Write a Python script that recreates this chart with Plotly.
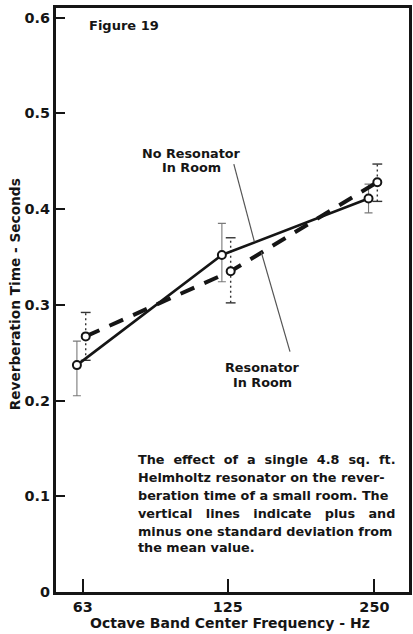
import numpy as np
import plotly.graph_objects as go

# Octave band centre frequencies (Hz)
freq = [63, 125, 250]
freq_labels = ["63", "125", "250"]

# Reverberation time (s), no resonator in room
no_res = [0.237, 0.352, 0.411]
no_res_plus = [0.025, 0.033, 0.015]
no_res_minus = [0.032, 0.028, 0.015]

# Reverberation time (s), resonator in room
res = [0.267, 0.335, 0.428]
res_plus = [0.025, 0.035, 0.019]
res_minus = [0.025, 0.033, 0.020]

y_ticks = [0, 0.1, 0.2, 0.3, 0.4, 0.5, 0.6]
y_tick_labels = ["0", "0.1", "0.2", "0.3", "0.4", "0.5", "0.6"]

caption = [
    "The\u00a0 effect\u00a0 of\u00a0 a\u00a0 single\u00a0 4.8\u00a0 sq.\u00a0 ft.",
    "Helmholtz resonator on the rever-",
    "beration time of a small room. The",
    "vertical\u00a0\u00a0 lines\u00a0\u00a0 indicate\u00a0\u00a0 plus\u00a0\u00a0 and",
    "minus one standard deviation from",
    "the mean value.",
]

FONT = "DejaVu Sans"
INK = "#151515"

# frequencies placed on an octave (log2) axis; the two series are dodged slightly
octave = np.log2(np.array(freq) / freq[0])
dodge = 0.04
x_no = octave - dodge
x_res = octave + dodge * 0.5

fig = go.Figure()

# dotted standard-deviation bars for the resonator series
bx, by = [], []
for xi, yi, p, m in zip(x_res, res, res_plus, res_minus):
    bx += [xi, xi, None]
    by += [yi - m, yi + p, None]
fig.add_trace(go.Scatter(
    x=bx, y=by, mode="lines+markers",
    line=dict(color="#333333", width=1.4, dash="2px,3px"),
    marker=dict(symbol="line-ew-open", size=7, line=dict(color="#333333", width=1.4)),
    hoverinfo="skip", showlegend=False,
))

# no resonator: solid line with standard-deviation bars
fig.add_trace(go.Scatter(
    x=x_no, y=no_res, mode="lines+markers", name="No Resonator In Room",
    line=dict(color=INK, width=2.6),
    marker=dict(symbol="circle", size=8, color="white", line=dict(color=INK, width=2)),
    error_y=dict(type="data", symmetric=False, array=no_res_plus, arrayminus=no_res_minus,
                 color="#7a7a7a", thickness=1.1, width=4),
    showlegend=False,
))

# resonator: heavy dashed line
fig.add_trace(go.Scatter(
    x=x_res, y=res, mode="lines+markers", name="Resonator In Room",
    line=dict(color=INK, width=4, dash="15px,11px"),
    marker=dict(symbol="circle", size=8, color="white", line=dict(color=INK, width=2)),
    showlegend=False,
))

# leader lines from the labels to their curves
for (x0, y0, x1, y1) in [(1.03, 0.447, 1.17, 0.366), (1.413, 0.251, 1.217, 0.355)]:
    fig.add_shape(type="line", xref="x", yref="y", x0=x0, y0=y0, x1=x1, y1=y1,
                  line=dict(color="#555555", width=1.2))

ann_font = dict(family=FONT, size=12.8, color=INK, weight="bold")
annotations = [
    dict(x=0.027, y=0.5922, text="Figure 19", xanchor="left",
         font=dict(family=FONT, size=13, color=INK, weight="bold")),
    dict(x=0.744, y=0.4585, text="No Resonator", xanchor="center", font=ann_font),
    dict(x=0.744, y=0.443, text="In Room", xanchor="center", font=ann_font),
    dict(x=1.224, y=0.235, text="Resonator", xanchor="center", font=ann_font),
    dict(x=1.224, y=0.219, text="In Room", xanchor="center", font=ann_font),
]
cap_y = [0.1389, 0.1201, 0.1003, 0.0825, 0.0637, 0.047]
for line, yy in zip(caption, cap_y):
    annotations.append(dict(x=0.365, y=yy, text=line, xanchor="left", font=ann_font))
for a in annotations:
    a.update(xref="x", yref="y", showarrow=False, yanchor="middle")

# axis titles
annotations.append(dict(xref="paper", yref="paper", x=0.4916, y=-0.0531,
                        text="Octave Band Center Frequency - Hz", showarrow=False,
                        xanchor="center", yanchor="middle",
                        font=dict(family=FONT, size=14, color=INK, weight="bold")))
annotations.append(dict(xref="paper", yref="paper", x=-0.1152, y=0.5103,
                        text="Reverberation Time - Seconds", showarrow=False, textangle=-90,
                        xanchor="center", yanchor="middle",
                        font=dict(family=FONT, size=13.7, color=INK, weight="bold")))

fig.update_layout(
    width=413, height=634,
    margin=dict(l=56, r=1, t=8, b=42),
    paper_bgcolor="white", plot_bgcolor="white",
    annotations=annotations,
    xaxis=dict(
        range=[-0.1826, 2.2245], tickvals=list(octave), ticktext=freq_labels,
        showgrid=False, zeroline=False, showline=True, linecolor=INK, linewidth=3,
        mirror=True, ticks="inside", ticklen=13, tickwidth=1.6, tickcolor=INK,
        tickfont=dict(family=FONT, size=14.4, color=INK, weight="bold"),
    ),
    yaxis=dict(
        range=[0, 0.61], tickvals=y_ticks, ticktext=y_tick_labels,
        showgrid=False, zeroline=False, showline=True, linecolor=INK, linewidth=3,
        mirror=True, ticks="inside", ticklen=9, tickwidth=2, tickcolor=INK,
        tickfont=dict(family=FONT, size=14.4, color=INK, weight="bold"),
    ),
)

fig.write_html("out.html")
